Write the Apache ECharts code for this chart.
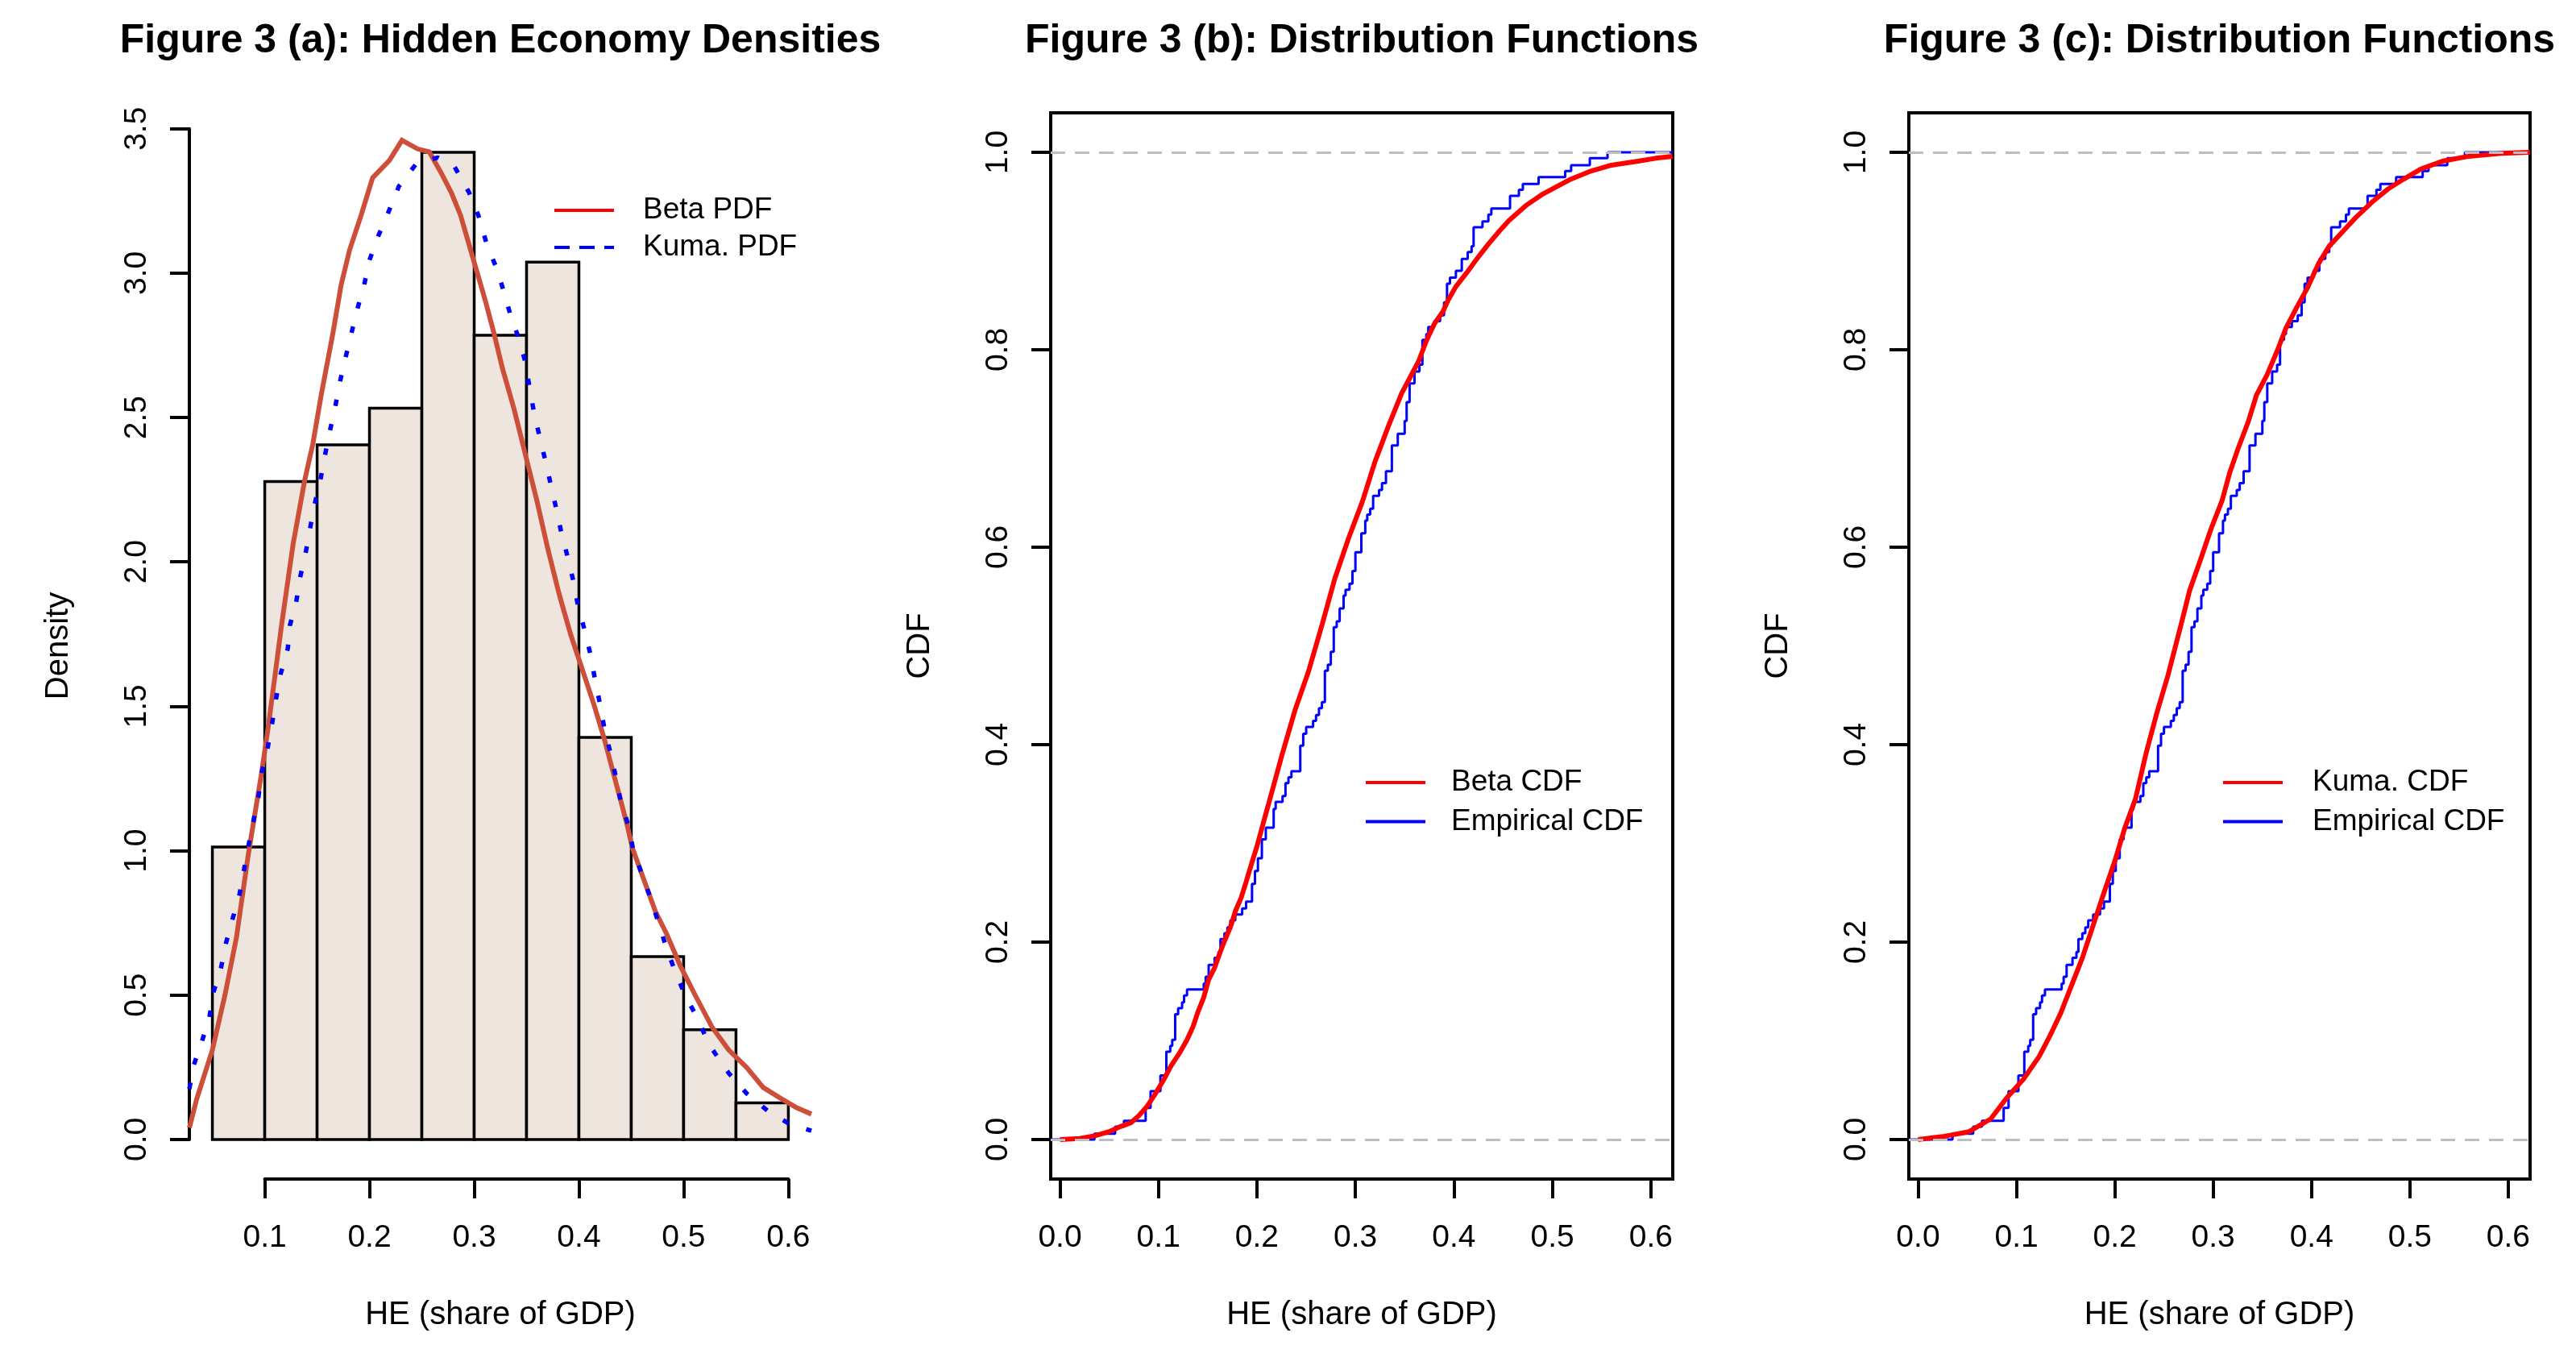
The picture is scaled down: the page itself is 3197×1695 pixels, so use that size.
<!DOCTYPE html>
<html><head><meta charset="utf-8">
<script src="https://cdn.jsdelivr.net/npm/echarts@6/dist/echarts.min.js"></script>
<style>html,body{margin:0;padding:0;background:#fff}#c{width:3197px;height:1695px}</style>
</head><body><div id="c"></div>
<script>
// ---------------- data ----------------
const titlesText = ['Figure 3 (a): Hidden Economy Densities','Figure 3 (b): Distribution Functions','Figure 3 (c): Distribution Functions'];
const xTitle = 'HE (share of GDP)';

// panel (a): histogram
const binEdges = [0.05,0.10,0.15,0.20,0.25,0.30,0.35,0.40,0.45,0.50,0.55,0.60];
const histDensity = [1.013,2.278,2.405,2.532,3.418,2.785,3.038,1.392,0.633,0.380,0.127];

const betaPdfX = [0.028,0.035,0.05,0.062,0.073,0.084,0.097,0.103,0.111,0.116,0.127,0.138,0.146,0.154,0.165,0.173,0.181,0.192,0.203,0.219,0.231,0.246,0.257,0.268,0.278,0.287,0.295,0.303,0.311,0.319,0.327,0.338,0.349,0.360,0.370,0.381,0.392,0.403,0.414,0.424,0.435,0.446,0.451,0.462,0.473,0.484,0.497,0.511,0.527,0.543,0.560,0.576,0.592,0.608,0.622];
const betaPdfY = [0.04,0.14,0.31,0.50,0.70,0.98,1.27,1.42,1.64,1.78,2.06,2.28,2.41,2.58,2.79,2.96,3.08,3.20,3.33,3.39,3.46,3.43,3.42,3.35,3.28,3.20,3.10,3.00,2.90,2.79,2.67,2.53,2.37,2.21,2.05,1.89,1.75,1.63,1.51,1.39,1.24,1.09,1.01,0.90,0.79,0.71,0.60,0.50,0.39,0.31,0.25,0.18,0.144,0.11,0.088];

const kumaPdfX = [0.028,0.032,0.040,0.047,0.051,0.058,0.063,0.069,0.076,0.080,0.084,0.089,0.094,0.097,0.103,0.107,0.111,0.115,0.122,0.124,0.130,0.134,0.139,0.143,0.147,0.153,0.157,0.162,0.167,0.171,0.176,0.182,0.188,0.195,0.200,0.208,0.218,0.228,0.245,0.265,0.281,0.295,0.304,0.312,0.321,0.328,0.335,0.343,0.349,0.353,0.357,0.362,0.368,0.373,0.378,0.383,0.389,0.395,0.399,0.405,0.411,0.415,0.420,0.424,0.430,0.435,0.440,0.447,0.452,0.460,0.468,0.476,0.483,0.492,0.502,0.514,0.524,0.543,0.560,0.580,0.600,0.622];
const kumaPdfY = [0.175,0.255,0.34,0.42,0.51,0.59,0.68,0.76,0.85,0.93,1.01,1.10,1.185,1.27,1.36,1.44,1.53,1.61,1.70,1.78,1.86,1.95,2.03,2.11,2.19,2.28,2.36,2.45,2.53,2.61,2.69,2.78,2.87,2.96,3.045,3.125,3.21,3.30,3.38,3.40,3.37,3.28,3.20,3.10,3.02,2.94,2.85,2.77,2.69,2.60,2.52,2.44,2.35,2.27,2.19,2.105,2.02,1.93,1.85,1.77,1.68,1.60,1.51,1.43,1.34,1.26,1.17,1.09,1.00,0.92,0.84,0.75,0.67,0.58,0.495,0.415,0.33,0.23,0.16,0.10,0.056,0.03];

// panels (b),(c): empirical CDF (jump locations and levels after the jump)
const ecdfX = [0.035,0.056,0.065,0.087,0.092,0.102,0.108,0.112,0.114,0.117,0.120,0.124,0.126,0.129,0.146,0.148,0.151,0.157,0.161,0.163,0.167,0.170,0.173,0.178,0.185,0.189,0.195,0.198,0.201,0.205,0.209,0.217,0.219,0.226,0.229,0.232,0.235,0.244,0.247,0.250,0.257,0.260,0.263,0.266,0.269,0.272,0.275,0.278,0.281,0.284,0.288,0.290,0.294,0.297,0.300,0.306,0.310,0.312,0.315,0.318,0.324,0.327,0.331,0.337,0.343,0.350,0.352,0.355,0.360,0.365,0.368,0.372,0.374,0.380,0.386,0.390,0.393,0.396,0.402,0.408,0.414,0.418,0.420,0.429,0.435,0.438,0.457,0.466,0.470,0.486,0.513,0.519,0.538,0.556];
const ecdfY = [0.006,0.013,0.019,0.032,0.049,0.065,0.089,0.095,0.101,0.127,0.133,0.139,0.146,0.152,0.158,0.165,0.177,0.184,0.190,0.203,0.209,0.215,0.222,0.228,0.234,0.241,0.259,0.272,0.285,0.304,0.316,0.335,0.342,0.348,0.361,0.367,0.373,0.399,0.411,0.418,0.424,0.430,0.437,0.443,0.475,0.481,0.494,0.519,0.525,0.538,0.551,0.557,0.563,0.576,0.595,0.614,0.627,0.633,0.639,0.652,0.658,0.665,0.677,0.703,0.715,0.728,0.747,0.766,0.778,0.785,0.810,0.816,0.823,0.829,0.835,0.848,0.867,0.873,0.880,0.892,0.899,0.905,0.924,0.930,0.937,0.943,0.956,0.962,0.968,0.975,0.981,0.987,0.994,1.0];

const betaCdfX = [0.0,0.02,0.036,0.05,0.061,0.072,0.08,0.088,0.096,0.105,0.113,0.121,0.129,0.135,0.14,0.146,0.151,0.157,0.162,0.167,0.173,0.178,0.184,0.189,0.195,0.200,0.206,0.211,0.225,0.239,0.252,0.266,0.279,0.293,0.307,0.320,0.334,0.347,0.355,0.364,0.372,0.380,0.389,0.394,0.402,0.413,0.424,0.435,0.446,0.456,0.473,0.489,0.517,0.539,0.560,0.587,0.605,0.622];
const betaCdfY = [0.0,0.001,0.004,0.008,0.013,0.017,0.024,0.033,0.045,0.060,0.075,0.087,0.101,0.114,0.129,0.144,0.162,0.174,0.188,0.201,0.215,0.231,0.245,0.261,0.281,0.297,0.319,0.337,0.388,0.436,0.473,0.521,0.568,0.609,0.646,0.687,0.724,0.756,0.771,0.788,0.809,0.826,0.839,0.850,0.864,0.878,0.893,0.907,0.920,0.931,0.946,0.957,0.972,0.981,0.987,0.991,0.994,0.996];

const kumaCdfX = [0.0,0.025,0.052,0.074,0.090,0.107,0.123,0.134,0.145,0.156,0.167,0.178,0.189,0.200,0.210,0.221,0.232,0.243,0.254,0.268,0.276,0.287,0.298,0.309,0.317,0.325,0.336,0.344,0.355,0.366,0.374,0.385,0.396,0.407,0.418,0.432,0.445,0.462,0.478,0.494,0.511,0.533,0.560,0.593,0.622];
const kumaCdfY = [0.0,0.003,0.008,0.021,0.042,0.061,0.084,0.105,0.128,0.156,0.184,0.217,0.250,0.282,0.315,0.345,0.392,0.433,0.470,0.524,0.556,0.587,0.619,0.647,0.676,0.699,0.728,0.754,0.775,0.801,0.822,0.843,0.863,0.887,0.905,0.920,0.934,0.950,0.963,0.973,0.983,0.991,0.996,0.999,1.0];

// tick labels
const xTicksA = [0.1,0.2,0.3,0.4,0.5,0.6];
const yTicksA = [0.0,0.5,1.0,1.5,2.0,2.5,3.0,3.5];
const xTicksCdf = [0.0,0.1,0.2,0.3,0.4,0.5,0.6];
const yTicksCdf = [0.0,0.2,0.4,0.6,0.8,1.0];
const refLevels = [0, 1];

// ---------------- layout ----------------
const FONT = '"Liberation Sans", Arial, Helvetica, sans-serif';
const P = [
  {left:235,  right:1007, top:140, bottom:1463, xmin:0.028,   xmax:0.622,  ymin:-0.137, ymax:3.555},
  {left:1304, right:2076, top:140, bottom:1463, xmin:-0.0094, xmax:0.6222, ymin:-0.04,  ymax:1.04},
  {left:2369, right:3140, top:140, bottom:1463, xmin:-0.0094, xmax:0.6222, ymin:-0.04,  ymax:1.04}
];
const px = (p, v) => p.left + (v - p.xmin) / (p.xmax - p.xmin) * (p.right - p.left);
const py = (p, v) => p.bottom - (v - p.ymin) / (p.ymax - p.ymin) * (p.bottom - p.top);
const zip = (xs, ys) => xs.map((x, i) => [x, ys[i]]);
const fmt1 = v => Number(v).toFixed(1);
const AXW = 4;

const grids = [], xAxes = [], yAxes = [], series = [];
const hidden = (gi, mn, mx) => ({type:'value', gridIndex:gi, min:mn, max:mx, show:false});

function mainGrid(p, yName, box) {
  grids.push({left:p.left, top:p.top, width:p.right-p.left, height:p.bottom-p.top, show:box,
    borderColor:'#000', borderWidth:AXW, backgroundColor:'transparent', containLabel:false, outerBoundsMode:'none'});
  const gi = grids.length - 1;
  const nameStyle = {fontSize:40, color:'#000', fontFamily:FONT};
  xAxes.push({type:'value', gridIndex:gi, min:p.xmin, max:p.xmax, axisLine:{show:false}, axisTick:{show:false},
    axisLabel:{show:false}, splitLine:{show:false}, name:xTitle, nameLocation:'middle', nameGap:149, nameTextStyle:nameStyle});
  yAxes.push({type:'value', gridIndex:gi, min:p.ymin, max:p.ymax, axisLine:{show:false}, axisTick:{show:false},
    axisLabel:{show:false}, splitLine:{show:false}, name:yName, nameLocation:'middle', nameGap:142, nameRotate:90, nameTextStyle:nameStyle});
  return gi;
}
function tickX(p, ticks) {
  const l = px(p, ticks[0]), r = px(p, ticks[ticks.length-1]);
  grids.push({left:l, width:r-l, top:p.top, height:p.bottom-p.top, show:false, containLabel:false, outerBoundsMode:'none'});
  const gi = grids.length - 1;
  xAxes.push({type:'value', gridIndex:gi, min:ticks[0], max:ticks[ticks.length-1], interval:+(ticks[1]-ticks[0]).toFixed(6),
    axisLine:{show:true, lineStyle:{color:'#000', width:AXW}},
    axisTick:{show:true, inside:false, length:24, lineStyle:{color:'#000', width:AXW}},
    axisLabel:{show:true, margin:54, fontSize:39, color:'#000', fontFamily:FONT, formatter:fmt1, showMinLabel:true, showMaxLabel:true, hideOverlap:false},
    splitLine:{show:false}});
  yAxes.push(hidden(gi, 0, 1));
}
function tickY(p, ticks) {
  const t = py(p, ticks[ticks.length-1]), b = py(p, ticks[0]);
  grids.push({left:p.left, width:10, top:t, height:b-t, show:false, containLabel:false, outerBoundsMode:'none'});
  const gi = grids.length - 1;
  xAxes.push(hidden(gi, 0, 1));
  yAxes.push({type:'value', gridIndex:gi, min:ticks[0], max:ticks[ticks.length-1], interval:+(ticks[1]-ticks[0]).toFixed(6),
    axisLine:{show:true, lineStyle:{color:'#000', width:AXW}},
    axisTick:{show:true, inside:false, length:24, lineStyle:{color:'#000', width:AXW}},
    axisLabel:{show:true, rotate:90, margin:45, fontSize:39, color:'#000', fontFamily:FONT, formatter:fmt1, showMinLabel:true, showMaxLabel:true, hideOverlap:false},
    splitLine:{show:false}});
}

// ---- panel (a)
const gA = mainGrid(P[0], 'Density', false);
tickX(P[0], xTicksA); tickY(P[0], yTicksA);
series.push({
  type:'custom', name:'hist', xAxisIndex:gA, yAxisIndex:gA, z:1,
  data: histDensity.map((d, i) => [binEdges[i], binEdges[i+1], d]),
  encode:{x:[0,1], y:2},
  renderItem:(params, api) => {
    const a = api.coord([api.value(0), 0]);
    const b = api.coord([api.value(1), api.value(2)]);
    return {type:'rect', shape:{x:a[0], y:b[1], width:b[0]-a[0], height:a[1]-b[1]},
      style:{fill:'#EEE5DE', stroke:'#000', lineWidth:3.5}};
  }
});
series.push({type:'line', name:'Beta PDF', xAxisIndex:gA, yAxisIndex:gA, z:3, data:zip(betaPdfX, betaPdfY),
  symbol:'none', showSymbol:false, lineStyle:{color:'#CD4F39', width:6, cap:'butt', join:'miter'}, itemStyle:{color:'#CD4F39'}});
series.push({type:'line', name:'Kuma. PDF', xAxisIndex:gA, yAxisIndex:gA, z:4, data:zip(kumaPdfX, kumaPdfY),
  symbol:'none', showSymbol:false, lineStyle:{color:'#0000FF', width:5.5, type:[8,23], cap:'butt'}, itemStyle:{color:'#0000FF'}});

// ---- panels (b),(c)
function cdfPanel(p, fitName, fx, fy) {
  const g = mainGrid(p, 'CDF', true);
  tickX(p, xTicksCdf); tickY(p, yTicksCdf);
  series.push({type:'line', name:'Empirical CDF', xAxisIndex:g, yAxisIndex:g, z:2, step:'end',
    data:[[p.xmin, 0]].concat(zip(ecdfX, ecdfY), [[p.xmax, ecdfY[ecdfY.length-1]]]),
    symbol:'none', showSymbol:false, lineStyle:{color:'#0000FF', width:3}, itemStyle:{color:'#0000FF'}});
  series.push({type:'line', name:'ref'+g, xAxisIndex:g, yAxisIndex:g, z:3, data:[], symbol:'none',
    markLine:{silent:true, symbol:['none','none'], label:{show:false}, animation:false,
      lineStyle:{color:'#BEBEBE', type:[18,12], width:3}, data:refLevels.map(v => ({yAxis:v}))}});
  series.push({type:'line', name:fitName, xAxisIndex:g, yAxisIndex:g, z:4, data:zip(fx, fy),
    symbol:'none', showSymbol:false, lineStyle:{color:'#FF0000', width:6}, itemStyle:{color:'#FF0000'}});
}
cdfPanel(P[1], 'Beta CDF', betaCdfX, betaCdfY);
cdfPanel(P[2], 'Kuma. CDF', kumaCdfX, kumaCdfY);

// ---- titles
const titles = P.map((p, i) => ({text:titlesText[i], left:(p.left+p.right)/2, top:26, textAlign:'center', padding:0,
  textStyle:{fontSize:50, fontWeight:'bold', color:'#000', fontFamily:FONT}}));

// ---- legends
function legend(left, top, gap, pad, items) {
  return {show:true, orient:'vertical', left, top, padding:0, itemGap:gap, itemWidth:74, itemHeight:4,
    selectedMode:false, itemStyle:{opacity:0},
    textStyle:{fontSize:37, color:'#000', fontFamily:FONT, lineHeight:38, padding:[0,0,0,pad]},
    data:items};
}
const legends = [
  legend(686, 242, 8, 31, [
    {name:'Beta PDF', lineStyle:{color:'#FF0000', width:4, type:'solid'}},
    {name:'Kuma. PDF', lineStyle:{color:'#0000FF', width:4, type:[19,12]}}]),
  legend(1693, 952, 10.5, 27, [
    {name:'Beta CDF', lineStyle:{color:'#FF0000', width:4, type:'solid'}},
    {name:'Empirical CDF', lineStyle:{color:'#0000FF', width:4, type:'solid'}}]),
  legend(2757, 952, 10.5, 32, [
    {name:'Kuma. CDF', lineStyle:{color:'#FF0000', width:4, type:'solid'}},
    {name:'Empirical CDF', lineStyle:{color:'#0000FF', width:4, type:'solid'}}])
];

const chart = echarts.init(document.getElementById('c'), null, {renderer:'canvas', width:3197, height:1695});
chart.setOption({
  backgroundColor:'#FFFFFF', animation:false,
  title:titles, legend:legends, grid:grids, xAxis:xAxes, yAxis:yAxes, series:series
});
</script></body></html>
